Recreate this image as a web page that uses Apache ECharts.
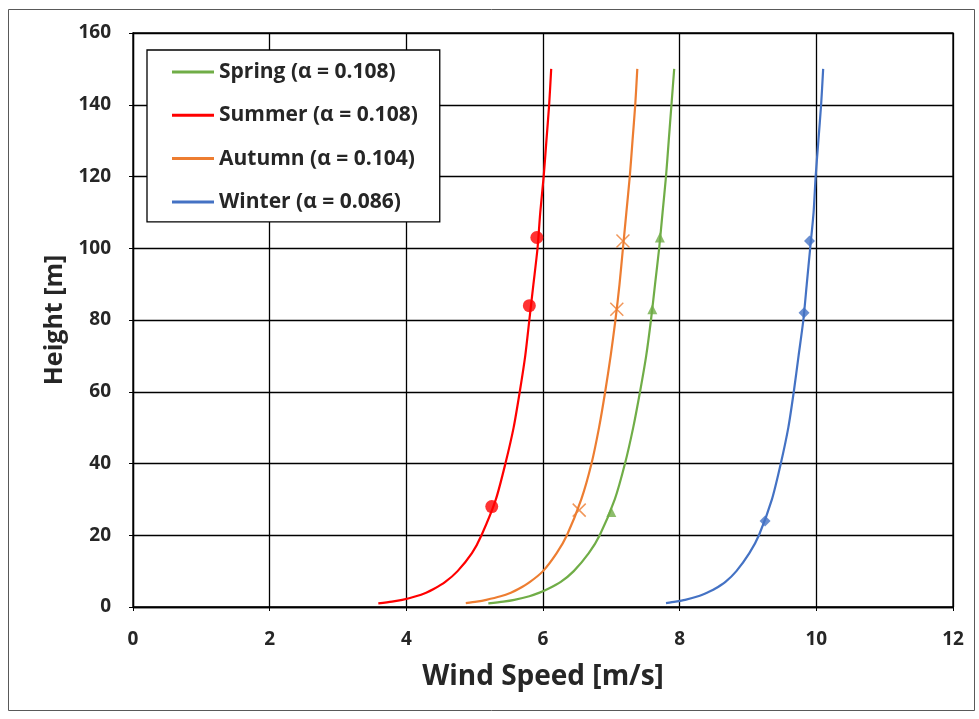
<!DOCTYPE html>
<html>
<head>
<meta charset="utf-8">
<script src="https://cdn.jsdelivr.net/npm/echarts@6/dist/echarts.min.js"></script>
<style>html,body{margin:0;padding:0;background:#fff}#c{width:979px;height:719px}</style>
</head>
<body>
<div id="c"></div>
<script>
// Series names
const seriesNames = ['Spring (α = 0.108)', 'Summer (α = 0.108)', 'Autumn (α = 0.104)', 'Winter (α = 0.086)'];

// Fitted profiles: heights [m] and wind speeds [m/s]
const springHeights = [1, 1.5, 2, 3, 4, 5, 7, 10, 15, 20, 30, 40, 50, 60, 70, 80, 90, 100, 110, 120, 130, 140, 150];
const springSpeeds  = [5.20, 5.42, 5.58, 5.80, 5.95, 6.07, 6.26, 6.45, 6.67, 6.83, 7.05, 7.20, 7.32, 7.42, 7.51, 7.58, 7.64, 7.70, 7.75, 7.80, 7.84, 7.88, 7.92];

const summerHeights = [1, 1.5, 2, 3, 4, 5, 7, 10, 15, 20, 30, 40, 50, 60, 70, 80, 90, 100, 110, 120, 130, 140, 150];
const summerSpeeds  = [3.59, 3.79, 3.94, 4.14, 4.29, 4.40, 4.57, 4.75, 4.96, 5.10, 5.31, 5.45, 5.57, 5.66, 5.74, 5.80, 5.86, 5.92, 5.96, 6.01, 6.05, 6.09, 6.12];

const autumnHeights = [1.1, 1.5, 2, 3, 4, 5, 7, 10, 15, 20, 30, 40, 50, 60, 70, 80, 90, 100, 110, 120, 130, 140, 150];
const autumnSpeeds  = [4.87, 5.03, 5.17, 5.38, 5.53, 5.64, 5.81, 6.00, 6.20, 6.35, 6.56, 6.71, 6.82, 6.91, 6.99, 7.06, 7.12, 7.17, 7.22, 7.27, 7.31, 7.35, 7.38];

const winterHeights = [1.1, 1.5, 2, 3, 4, 5, 7, 10, 15, 20, 30, 40, 50, 60, 70, 80, 90, 100, 110, 120, 130, 140, 150];
const winterSpeeds  = [7.80, 7.94, 8.08, 8.27, 8.40, 8.51, 8.67, 8.83, 9.02, 9.16, 9.35, 9.48, 9.59, 9.67, 9.74, 9.81, 9.86, 9.91, 9.96, 9.99, 10.03, 10.07, 10.10];

// Measured points (markers)
const springPtHeights = [26.5, 83, 103];
const springPtSpeeds  = [7.00, 7.60, 7.71];
const summerPtHeights = [28, 84, 103];
const summerPtSpeeds  = [5.25, 5.80, 5.91];
const autumnPtHeights = [27, 83, 102];
const autumnPtSpeeds  = [6.53, 7.08, 7.17];
const winterPtHeights = [24, 82, 102];
const winterPtSpeeds  = [9.25, 9.82, 9.90];

// Axis ticks
const xTicks = [0, 2, 4, 6, 8, 10, 12];
const yTicks = [0, 20, 40, 60, 80, 100, 120, 140, 160];

const colors = ['#70AD47', '#FF0000', '#ED7D31', '#4472C4'];
const FONT = '"Open Sans", "DejaVu Sans", sans-serif';

function pairs(speeds, heights) { return speeds.map((v, i) => [v, heights[i]]); }

const curves = [
  pairs(springSpeeds, springHeights),
  pairs(summerSpeeds, summerHeights),
  pairs(autumnSpeeds, autumnHeights),
  pairs(winterSpeeds, winterHeights)
];
const points = [
  pairs(springPtSpeeds, springPtHeights),
  pairs(summerPtSpeeds, summerPtHeights),
  pairs(autumnPtSpeeds, autumnPtHeights),
  pairs(winterPtSpeeds, winterPtHeights)
];
const symbols = ['triangle', 'circle', 'path://M0,0L10,10M10,0L0,10', 'diamond'];
const symbolSizes = [10, 13, 13, 11];

const series = [];
curves.forEach((d, i) => {
  series.push({
    name: seriesNames[i], type: 'line', data: d, smooth: 0.25, symbol: 'none',
    lineStyle: { color: colors[i], width: 2.2 }, itemStyle: { color: colors[i] },
    z: 3, animation: false
  });
});
points.forEach((d, i) => {
  const isX = i === 2;
  series.push({
    name: seriesNames[i] + ' pts', type: 'scatter', data: d,
    symbol: symbols[i], symbolSize: symbolSizes[i],
    itemStyle: isX ? { color: 'rgba(0,0,0,0)', borderColor: colors[i], borderWidth: 1.5, opacity: 0.8 }
                   : { color: colors[i] },
    z: 4, animation: false
  });
});

const chart = echarts.init(document.getElementById('c'), null, { renderer: 'canvas' });
chart.setOption({
  backgroundColor: '#ffffff',
  animation: false,
  textStyle: { fontFamily: FONT },
  graphic: [{
    type: 'rect', shape: { x: 8.5, y: 9.5, width: 966, height: 701 },
    style: { fill: 'none', stroke: '#595959', lineWidth: 1 }, z: -1
  }],
  grid: { left: 133, top: 33, right: 26, bottom: 112, show: true, borderColor: '#000', borderWidth: 1.3 },
  legend: {
    data: seriesNames,
    orient: 'vertical', left: 147, top: 50,
    padding: [10, 22, 8, 25],
    itemGap: 19.3, itemWidth: 42, itemHeight: 3, icon: 'rect',
    borderColor: '#000', borderWidth: 1.3, backgroundColor: '#fff',
    textStyle: { fontFamily: FONT, fontSize: 21, lineHeight: 24, fontWeight: 'bold', color: '#262626' }
  },
  xAxis: {
    type: 'value', min: 0, max: 12, interval: 2,
    name: 'Wind Speed [m/s]', nameLocation: 'middle', nameGap: 56,
    nameTextStyle: { fontFamily: FONT, fontSize: 28, fontWeight: 'bold', color: '#262626' },
    axisLine: { show: true, lineStyle: { color: '#000', width: 1.3 } },
    axisTick: { show: true, length: 4, lineStyle: { color: '#000' } },
    axisLabel: { margin: 23, fontFamily: FONT, fontSize: 19, fontWeight: 'bold', color: '#262626',
      formatter: v => xTicks.includes(v) ? String(v) : '' },
    splitLine: { show: true, lineStyle: { color: '#000', width: 1.3 } }
  },
  yAxis: {
    type: 'value', min: 0, max: 160, interval: 20,
    name: 'Height [m]', nameLocation: 'middle', nameGap: 63, nameRotate: 90,
    nameTextStyle: { fontFamily: FONT, fontSize: 25, fontWeight: 'bold', color: '#262626' },
    axisLine: { show: true, lineStyle: { color: '#000', width: 1.3 } },
    axisTick: { show: true, length: 4, lineStyle: { color: '#000' } },
    axisLabel: { margin: 22, fontFamily: FONT, fontSize: 19, fontWeight: 'bold', color: '#262626',
      formatter: v => yTicks.includes(v) ? String(v) : '' },
    splitLine: { show: true, lineStyle: { color: '#000', width: 1.3 } }
  },
  series: series
});
</script>
</body>
</html>
